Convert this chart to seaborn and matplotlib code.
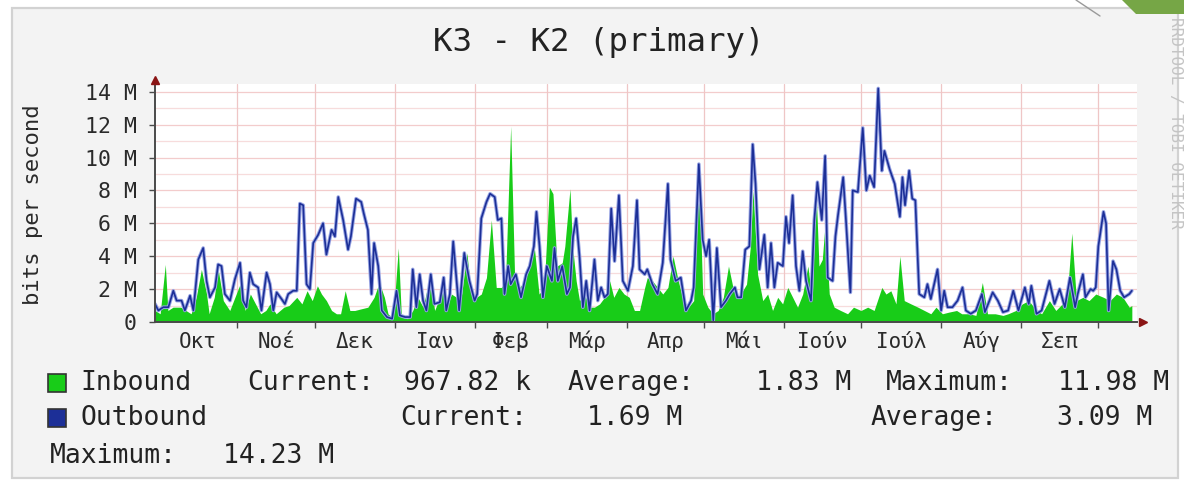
import matplotlib
matplotlib.use("Agg")
import matplotlib.pyplot as plt
import seaborn as sns
from matplotlib.patches import Rectangle, Polygon
from matplotlib.lines import Line2D

# ---------------- data ----------------
title = "K3 - K2 (primary)"
ylabel = "bits per second"
month_labels = ['Οκτ', 'Νοέ', 'Δεκ', 'Ιαν', 'Φεβ', 'Μάρ', 'Απρ', 'Μάι', 'Ιούν', 'Ιούλ', 'Αύγ', 'Σεπ']
month_starts = [1, 32, 62, 93, 124, 152, 183, 213, 244, 274, 305, 336, 366]  # day offsets
yticks = [0, 2, 4, 6, 8, 10, 12, 14]  # Mbit/s

in_days = [0, 2, 4, 5, 7, 10, 12, 14, 16, 18, 20, 21, 23, 24.5, 26.5, 29, 31, 33, 35, 37, 39, 41, 43, 44.6,
           47, 50, 52, 55, 57, 59, 61, 63, 64.6, 66.5, 68.5, 70.4, 72, 73.8, 75.6, 77.5, 80, 82.6, 85, 87,
           89, 90.4, 92.4, 94.4, 95.6, 98, 100, 102, 104, 106.6, 108.5, 110, 112, 113, 115, 117, 119, 121,
           122.7, 124.7, 126.6, 128.6, 130.5, 132.4, 134.4, 136, 138, 139.5, 141.5, 143.4, 146, 147, 149,
           151, 153, 154.4, 156, 158, 159, 161, 162, 163.4, 164.7, 166.6, 168.6, 170.5, 172.5, 174.4, 176.4,
           178, 180, 182, 184, 186, 188, 190, 191, 193, 195, 197, 199, 201, 203, 205, 207, 209, 211, 212.5,
           214.5, 216.5, 218.5, 220.5, 222.5, 224.5, 226.4, 228, 229.5, 231, 232, 233.8, 235.8, 237.7, 239.6,
           241.6, 243.5, 245.5, 247.4, 249.3, 251.3, 253.3, 255, 256.4, 257.6, 258.9, 260, 261.6, 263.5, 266,
           268.7, 271, 273.9, 276.5, 279, 282, 283.6, 285.5, 287.5, 289, 290.7, 293.3, 296, 298.5, 301, 303,
           305.5, 308, 311, 313, 316, 318.5, 321, 323, 326, 329, 331, 334, 336.5, 339, 342, 344, 347, 349.5,
           352, 354, 355.7, 357.5, 360, 362.4, 365, 368, 370.5, 373, 375.5, 378, 379]
in_vals = [0.7, 0.5, 3.5, 0.7, 0.9, 0.9, 0.7, 0.5, 1.5, 3.2, 1.7, 0.5, 1.5, 3.2, 1.3, 0.7, 1.5, 2.3, 0.7, 1.7,
           1.1, 0.5, 0.7, 1.1, 0.5, 0.9, 1.0, 1.5, 1.1, 1.9, 1.3, 2.2, 1.7, 1.3, 0.7, 0.5, 0.5, 1.9, 0.7, 0.7,
           0.8, 0.9, 1.5, 2.4, 1.5, 0.5, 0.2, 4.5, 0.3, 0.2, 0.7, 1.5, 0.9, 2.7, 0.7, 1.3, 2.7, 0.7, 1.7, 1.5,
           1.7, 4.2, 1.7, 1.5, 1.7, 2.7, 6.2, 2.1, 2.1, 2.5, 11.9, 2.9, 2.1, 2.5, 3.6, 4.8, 1.7, 2.1, 8.2, 7.8,
           3.4, 3.6, 4.6, 8.1, 4.6, 2.5, 1.3, 1.7, 0.9, 0.9, 1.1, 1.5, 2.5, 1.5, 2.1, 1.7, 1.5, 0.7, 0.7, 2.1,
           2.7, 2.5, 2.1, 1.7, 2.1, 4.0, 2.5, 1.3, 0.9, 1.3, 9.4, 1.7, 0.9, 0.5, 0.7, 1.5, 3.4, 1.9, 1.5, 1.9,
           2.3, 4.6, 8.0, 2.9, 1.3, 1.7, 0.7, 1.5, 1.1, 2.1, 1.5, 0.9, 1.7, 3.4, 1.3, 8.4, 3.4, 3.8, 6.0, 1.7,
           0.9, 0.7, 0.5, 0.9, 0.7, 0.9, 0.7, 2.1, 1.7, 1.9, 1.1, 4.0, 1.3, 1.1, 0.9, 0.7, 0.5, 0.9, 0.5, 0.6,
           0.7, 0.5, 0.5, 0.4, 2.4, 0.5, 0.5, 0.4, 0.5, 0.7, 1.1, 1.3, 0.7, 0.5, 1.3, 0.7, 1.1, 1.7, 5.4, 1.3,
           1.5, 1.3, 1.7, 1.5, 1.3, 1.7, 1.5, 0.9, 1.0]

out_days = [0, 1.3, 3.2, 5.2, 7.1, 8.4, 10.3, 11.6, 13.6, 14.9, 16.8, 18.7, 20, 21.3, 23.3, 24.5, 25.8, 27.1,
            29.1, 31, 33, 34.2, 35.5, 36.8, 38.1, 40, 41.3, 43.3, 44.6, 45.9, 47.2, 49.1, 50.4, 51.7, 53.6, 55,
            56.2, 57.5, 58.8, 60.1, 61.4, 63.3, 65.2, 66.5, 68.5, 69.8, 71.1, 73, 74.9, 76, 78, 80, 81, 82.6,
            84, 85, 86.6, 88, 90, 92, 93.7, 95, 97, 99, 100, 101.4, 102.7, 104, 105.3, 107, 108.4, 110.5, 112,
            113, 114.4, 115.7, 117, 118, 120, 122, 124, 125, 126.6, 128.6, 130, 131.8, 133, 134.4, 135.6, 137,
            138, 140, 142, 144, 145.4, 147, 148, 149.2, 150.5, 152, 154, 155, 156.3, 158, 159.8, 161, 162.2,
            163.4, 164.7, 166, 167.3, 168.6, 170.5, 171.8, 173.1, 174.4, 175.7, 177, 178.3, 180, 181.5, 183.5,
            185.4, 187, 188, 190, 191, 193, 195, 197, 199, 200, 202, 204, 206, 208, 209, 211, 212.5, 213.8,
            215, 216.6, 218, 219.6, 221.5, 223, 225, 226, 227.4, 229, 230.6, 231.9, 233, 234.5, 236.4, 237.7,
            239, 240.3, 241.6, 243.6, 244.8, 246, 247.4, 248.7, 250, 251.3, 252.6, 254.5, 255.8, 257, 258.7,
            260, 261, 262.9, 264, 265, 267, 268, 269.8, 270.7, 272.7, 274.6, 276, 277.3, 279, 280.6, 282, 283,
            285, 287, 289, 290, 291, 292.6, 293.8, 295, 296.5, 298.5, 299.7, 301, 303.6, 305, 306.2, 307.5,
            309.4, 311.4, 313.3, 314.6, 316.5, 318.5, 320.8, 322, 325, 327, 329, 331, 333, 335, 337.5, 339,
            340, 342, 344, 347, 349, 351, 353, 355, 357, 358, 360, 361, 363, 364, 365, 366, 368, 369, 370,
            371.7, 373, 374.5, 376, 378, 379]
out_vals = [1.1, 0.7, 0.9, 0.9, 1.9, 1.3, 1.3, 0.7, 1.6, 0.7, 3.8, 4.5, 2.5, 1.5, 2.1, 3.5, 3.4, 1.7, 1.3, 2.6,
            3.6, 1.3, 0.9, 3.0, 2.3, 2.1, 0.7, 3.0, 2.3, 0.7, 1.8, 1.4, 1.1, 1.7, 1.9, 1.9, 7.2, 7.1, 2.3, 2.0,
            4.8, 5.3, 6.0, 4.1, 5.6, 5.2, 7.6, 6.2, 4.4, 5.2, 7.5, 7.3, 6.6, 5.6, 1.7, 4.8, 3.4, 0.7, 0.3, 0.2,
            1.9, 0.4, 0.3, 0.3, 3.2, 0.9, 2.9, 1.3, 0.7, 2.9, 1.1, 1.2, 2.7, 0.7, 1.7, 4.9, 2.5, 0.7, 4.2, 2.5,
            1.3, 1.7, 6.3, 7.3, 7.8, 7.6, 6.2, 6.3, 1.7, 3.4, 2.3, 2.9, 1.5, 2.9, 3.4, 4.6, 6.7, 4.6, 1.5, 3.4,
            2.5, 4.5, 2.5, 3.4, 1.7, 2.1, 5.2, 6.3, 4.0, 0.9, 2.5, 0.7, 3.8, 1.3, 2.1, 1.5, 1.7, 6.9, 3.7, 7.7,
            2.5, 1.9, 3.4, 7.4, 3.2, 2.9, 3.2, 2.3, 1.7, 3.6, 8.4, 3.8, 2.5, 2.7, 0.7, 1.3, 2.1, 9.6, 5.0, 4.0,
            5.0, 0.1, 4.5, 0.9, 1.3, 1.7, 2.1, 1.5, 1.5, 4.4, 4.6, 10.8, 8.4, 3.2, 5.3, 2.1, 4.8, 2.1, 3.6, 3.4,
            6.4, 4.8, 7.7, 3.4, 1.9, 4.3, 2.5, 1.3, 6.2, 8.5, 6.2, 10.1, 2.7, 2.5, 5.2, 6.5, 8.8, 6.4, 1.8, 8.0,
            7.9, 11.8, 8.0, 8.9, 8.2, 14.2, 9.2, 10.4, 9.3, 8.4, 6.4, 8.8, 7.1, 9.2, 7.5, 7.4, 1.7, 1.5, 2.3,
            1.4, 3.2, 0.7, 1.9, 0.9, 0.9, 1.3, 2.1, 0.7, 0.5, 0.7, 1.7, 0.6, 1.8, 1.3, 0.6, 0.7, 1.9, 0.7, 2.1,
            1.1, 2.2, 0.5, 0.7, 2.5, 1.1, 2.0, 0.9, 2.7, 0.9, 1.7, 2.9, 1.5, 2.0, 1.9, 2.1, 4.6, 6.7, 6.0, 0.7,
            3.7, 3.2, 1.9, 1.5, 1.7, 1.9]

series_names = ['Inbound', 'Outbound']
series_colors = ['#18cc18', '#1c2f97']
current_vals = ['967.82 k', '1.69 M']
average_vals = ['1.83 M', '3.09 M']
maximum_vals = ['11.98 M', '14.23 M']

# ---------------- figure ----------------
sns.set_theme(style='white')
plt.rcParams['font.family'] = ['DejaVu Sans Mono', 'DejaVu Sans']

W, H = 1184, 484
fig = plt.figure(figsize=(W / 100, H / 100), dpi=100)
fig.patch.set_facecolor('white')


def fx(x):
    return x / W


def fy(y):
    return 1 - y / H


# panel background
fig.patches.append(Rectangle((fx(12), fy(478)), fx(1178) - fx(12), fy(8) - fy(478),
                             transform=fig.transFigure, facecolor='#f3f3f3',
                             edgecolor='#d2d2d2', lw=1.6, zorder=-10))
# slide decoration top-right
fig.patches.append(Polygon([(fx(1122), fy(0)), (fx(1184), fy(0)), (fx(1184), fy(14)), (fx(1136), fy(14))],
                           closed=True, transform=fig.transFigure, facecolor='#76a646',
                           edgecolor='none', zorder=-5))
fig.lines.append(Line2D([fx(1076), fx(1100)], [fy(0), fy(16)], transform=fig.transFigure,
                        color='#9a9a9a', lw=1.0, zorder=-5))

ax = fig.add_axes([fx(155), fy(322), fx(1137) - fx(155), fy(84) - fy(322)])
ax.set_zorder(1)
ax.set_facecolor('white')
ax.set_xlim(0, 381)
ax.set_ylim(0, 14.47)

# grid
for v in range(1, 15):
    ax.axhline(v, color='#f7dcdc' if v % 2 else '#f3cccc', lw=0.9, zorder=0.5)
for d in month_starts[1:]:
    ax.axvline(d, color='#efc6c6', lw=0.9, zorder=0.5)

# inbound area
ax.fill_between(in_days, in_vals, 0, color=series_colors[0], lw=0, zorder=2)
# outbound line (halo + core)
sns.lineplot(x=out_days, y=out_vals, ax=ax, color='#97a3e2', lw=2.6, sort=False,
             estimator=None, zorder=3)
sns.lineplot(x=out_days, y=out_vals, ax=ax, color=series_colors[1], lw=1.2, sort=False,
             estimator=None, zorder=4)

# axes / ticks
for s in ['top', 'right']:
    ax.spines[s].set_visible(False)
for s in ['left', 'bottom']:
    ax.spines[s].set_color('#4a4a4a')
    ax.spines[s].set_linewidth(1.4)
    ax.spines[s].set_zorder(5)

ax.set_yticks(yticks)
ax.set_yticklabels(['0' if v == 0 else f'{v} M' for v in yticks])
ax.tick_params(axis='y', direction='out', length=4, width=1, color='#4a4a4a', pad=9,
               labelsize=15.5, labelcolor='#2a2a2a', left=True)

ax.set_xticks(month_starts[1:])
ax.set_xticklabels([''] * len(month_starts[1:]))
mids = [(a + b) / 2 for a, b in zip(month_starts[:-1], month_starts[1:])]
ax.set_xticks(mids, minor=True)
ax.set_xticklabels(month_labels, minor=True)
ax.tick_params(axis='x', which='major', direction='out', length=4, width=1, color='#4a4a4a', bottom=True)
ax.tick_params(axis='x', which='minor', length=0, pad=18.5, labelsize=15, labelcolor='#2a2a2a')
for lbl in ax.get_xticklabels(minor=True):
    lbl.set_verticalalignment('baseline')

# arrows
ax.plot(0, 1.015, marker='^', color='#8a1414', ms=6, transform=ax.transAxes, clip_on=False, zorder=6)
ax.plot(1.006, 0, marker='>', color='#8a1414', ms=6, transform=ax.transAxes, clip_on=False, zorder=6)

# title, ylabel, watermark
fig.text(fx(599), fy(42), title, ha='center', va='center', fontsize=23.3, color='#222222')
fig.text(fx(33), fy(205), ylabel, ha='center', va='center', rotation=90, fontsize=16, color='#2a2a2a')
fig.text(fx(1175), fy(123), 'RRDTOOL / TOBI OETIKER', ha='center', va='center', rotation=270,
         fontsize=11.5, color='#c4c4c4')

# legend
tc = '#222222'
fs = 19
rows_y = [383, 418]
for i, y in enumerate(rows_y):
    fig.patches.append(Rectangle((fx(48), fy(y + 9)), fx(66) - fx(48), fy(y - 9) - fy(y + 9),
                                 transform=fig.transFigure, facecolor=series_colors[i],
                                 edgecolor='#333333', lw=1.2, zorder=3))
    fig.text(fx(80), fy(y), series_names[i], ha='left', va='center', fontsize=fs, color=tc)

fig.text(fx(247), fy(383), 'Current:', ha='left', va='center', fontsize=fs, color=tc)
fig.text(fx(531), fy(383), current_vals[0], ha='right', va='center', fontsize=fs, color=tc)
fig.text(fx(568), fy(383), 'Average:', ha='left', va='center', fontsize=fs, color=tc)
fig.text(fx(851), fy(383), average_vals[0], ha='right', va='center', fontsize=fs, color=tc)
fig.text(fx(886), fy(383), 'Maximum:', ha='left', va='center', fontsize=fs, color=tc)
fig.text(fx(1169), fy(383), maximum_vals[0], ha='right', va='center', fontsize=fs, color=tc)

fig.text(fx(400), fy(418), 'Current:', ha='left', va='center', fontsize=fs, color=tc)
fig.text(fx(682), fy(418), current_vals[1], ha='right', va='center', fontsize=fs, color=tc)
fig.text(fx(871), fy(418), 'Average:', ha='left', va='center', fontsize=fs, color=tc)
fig.text(fx(1152), fy(418), average_vals[1], ha='right', va='center', fontsize=fs, color=tc)

fig.text(fx(50), fy(456), 'Maximum:', ha='left', va='center', fontsize=fs, color=tc)
fig.text(fx(334), fy(456), maximum_vals[1], ha='right', va='center', fontsize=fs, color=tc)

fig.savefig('out.png', dpi=100, facecolor='white')
